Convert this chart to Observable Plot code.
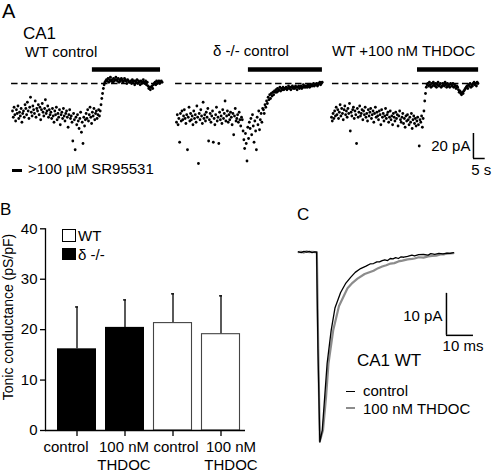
<!DOCTYPE html>
<html><head><meta charset="utf-8">
<script src="https://cdn.jsdelivr.net/npm/d3@7"></script>
<script src="https://cdn.jsdelivr.net/npm/@observablehq/plot@0.6"></script>
<style>
body{margin:0;background:#fff;}
#fig{position:relative;width:492px;height:472px;overflow:hidden;background:#fff;font-family:"Liberation Sans",Arial,Helvetica,sans-serif;color:#000;}
.t{position:absolute;white-space:nowrap;line-height:1;}
</style></head><body><div id="fig"></div>
<script>
// ---------------- DATA ----------------
// Panel A: holding current (pA, relative to the SR95531 level), sampled every 1/3 s
const sampleInterval = 1 / 3;
const wtControl = [
  -22,-27,-19,-25,-30,-21,-24,-18,-28,-23,-26,-20,-31,-24,-22,-27,-17,
  -20,-25,-15,-22,-28,-19,-11,-23,-26,-18,-21,-24,-14,-27,-20,-22,-17,-25,-19,-29,-21,-16,-23,-26,-20,-13,-24,-22,-18,-27,-21,-25,
  -23,-28,-20,-26,-31,-22,-25,-19,-29,-24,-27,-21,-33,-25,-23,-28,-20,-26,-30,-24,-22,-27,-35,-25,-21,-28,
  -26,-31,-46,-24,-29,-53,-27,-33,-25,-30,-36,-28,-23,-39,-31,-48,-27,-34,-29,
  -24,-28,-21,-30,-25,-19,-27,-32,-23,-26,-20,-29,-24,-22,-28,-25,-21,-26,
  -22,-17,-12,-8,-4,-1,1,2,
  3,2,4,1,3,5,2,3,1,4,2,3,5,3,2,4,1,3,2,4,3,1,2,4,3,2,0,3,2,1,
  1,2,0,3,1,2,-1,2,1,3,0,2,1,-1,2,0,1,3,1,0,2,-1,1,
  -2,-4,-3,-5,-3,-2,-4,-1,
  0,1,-1,2,0,1,2,0,1,2,1
];
const deltaControl = [
  -31,-25,-33,-28,-47,-24,-30,-22,-29,-26,
  -21,-28,-32,-25,-53,-27,-19,-30,-24,-29,
  -26,-33,-22,-28,-25,-31,-18,-27,-64,-24,
  -29,-21,-26,-32,-15,-28,-25,-30,-23,-27,
  -20,-46,-29,-24,-31,-26,-22,-47,-28,-33,
  -25,-19,-30,-27,-48,-23,-29,-26,-32,-21,
  -28,-24,-14,-30,-26,-22,-31,-25,-29,-23,
  -27,-33,-24,-41,-26,-20,-30,-28,-25,-31,
  -23,-29,-34,-27,
  -29,-38,-45,-52,-40,-48,-62,-35,-44,-31,
  -36,-28,-41,-25,-34,-47,-30,-38,-53,-27,-33,-22,-37,-29,-24,-31,-20,
  -21,-24,-17,-19,-14,-16,-11,-13,-9,-12,-8,-10,-7,-9,-6,-7,
  -5,-7,-4,-6,-5,-3,-6,-4,-5,-3,-5,-4,-4,
  -3,-5,-4,-2,-4,-3,-5,-3,-2,-4,-3,-4,-2,-3,-5,-3,-2,-4,-3,-2,-4,-3,-1,-3,-2,-3,
  -2,-3,-1,-2,-3,-1,-2,-1,-2,0,-2,-1,-1,0,-2,-1,0,1,-1,0,1
];
const wtThdoc = [
  -27,-30,-24,-28,-22,-26,-19,-25,-21,-28,
  -23,-17,-26,-20,-24,-29,-21,-18,-25,-22,
  -27,-20,-24,-16,-38,-23,-26,-21,-19,-28,
  -22,-25,-48,-20,-27,-23,-18,-26,-24,-21,
  -29,-22,-25,-19,-27,-24,-30,-21,-26,-23,
  -20,-28,-25,-22,-31,-24,-19,-27,-23,-26,
  -29,-22,-25,-33,-21,-27,-24,-30,-26,-20,
  -28,-25,-23,-31,-27,-22,-29,-26,-33,-24,
  -27,-30,-23,-28,-25,-34,-26,-22,-29,-31,
  -27,-24,-32,-28,-35,-26,-30,-25,-29,-33,
  -27,-31,-24,-36,-29,-26,-32,-28,-34,-30,
  -27,-33,-50,-29,-31,-26,-35,
  -28,-22,-14,-8,-3,-1,
  0,-2,1,-1,-3,0,-2,1,-1,-2,
  0,-3,-1,1,-2,-1,0,-3,-2,0,
  -1,-2,1,-1,-3,0,-2,-1,-3,0,
  -1,-2,0,-3,-1,-2,-4,-2,-3,
  -5,-7,-6,-8,-9,-7,-8,-6,-5,-4,
  -3,-2,-4,-1,-2,0,-3,-1,-2,0,
  1,-1,0,-2,1,0
];
// SR95531 application windows (s): [start, end] per trace
const sr95531Start = [34.0, 30.6, 36.6];
const sr95531End = [63.0, 62.1, 62.6];
const traceTitles = ["WT control", "δ -/- control", "WT +100 nM THDOC"];
const scaleBarPA = 20, scaleBarS = 5;

// Panel B
const groups = ["δ -/-", "δ -/-", "WT", "WT"];
const conditions = ["control", "100 nM\nTHDOC", "control", "100 nM\nTHDOC"];
const conductance = [16.2, 20.45, 21.3, 19.1];
const conductanceErr = [8.3, 5.45, 5.8, 7.6];
const yTicksB = [0, 10, 20, 30, 40];

// Panel C: averaged IPSCs (time ms, current pA)
const controlT = [0,1,2,3,4,5,6,6.7,7.2,7.9,8.8,9.7,10.6,12.1,13.5,15.6,17.4,19.3,21,23,25,26.5,27.8,29,30,31,32,33,34,35,36,37,38,39,40.4,42,43,44.5,46.3,48,49,50.5,52,53.5,55,56.2,57.4];
const controlI = [0.1,-0.1,0.2,0,0.2,-0.1,0.1,0,-23,-45.2,-42.4,-34.5,-26.5,-18.6,-13.3,-9.6,-7.5,-6.0,-4.8,-3.9,-3.3,-2.8,-2.7,-2.3,-2.3,-2.0,-1.8,-2.0,-1.5,-1.6,-1.3,-1.5,-1.1,-1.2,-1.0,-0.7,-0.9,-0.6,-0.55,-0.7,-0.35,-0.5,-0.3,-0.4,-0.2,-0.3,-0.1];
const thdocT = [0,1,2,3,4,5,6,6.8,7.3,7.9,9.07,10.2,11.1,12.85,15,18.15,20,21.85,24.5,27.8,29.5,31,32.5,34.1,35.5,37,38.5,40.4,42,43,44.5,46.3,48,49.5,51,52.6,54,55,56.2,57.4];
const thdocI = [0,0.1,-0.1,0.2,0,0.1,0,0,-23,-45,-42.4,-34.5,-26.5,-18.6,-12.8,-8.6,-7.3,-6.3,-5.2,-4.4,-3.8,-3.4,-3.1,-2.7,-2.6,-2.2,-2.0,-1.7,-1.6,-1.5,-1.2,-1.3,-1.0,-0.9,-0.8,-0.55,-0.5,-0.35,-0.3,-0.2];
const scaleBarPA_C = 10, scaleBarMs = 10;

// ---------------- LAYOUT ----------------
const FONT = '"Liberation Sans", Arial, Helvetica, sans-serif';
const fig = document.getElementById("fig");
const baseStyle = {background: "transparent", overflow: "visible", fontFamily: FONT, fontSize: "15px", color: "black"};

function place(node, left, top) {
  node.style.position = "absolute";
  node.style.left = left + "px";
  node.style.top = top + "px";
  fig.appendChild(node);
}
function label(txt, x, baseline, size, anchor = "start") {
  const d = document.createElement("div");
  d.className = "t";
  d.textContent = txt;
  d.style.fontSize = size + "px";
  d.style.top = (baseline - 0.8465 * size) + "px";
  if (anchor === "end") d.style.right = (492 - x) + "px";
  else if (anchor === "middle") { d.style.left = x + "px"; d.style.transform = "translateX(-50%)"; }
  else d.style.left = x + "px";
  fig.appendChild(d);
  return d;
}
function box(left, top, w, h, bg, border) {
  const d = document.createElement("div");
  d.style.cssText = `position:absolute;left:${left}px;top:${top}px;width:${w}px;height:${h}px;background:${bg};box-sizing:border-box;${border ? "border:" + border + ";" : ""}`;
  fig.appendChild(d);
}

// ---------------- PANEL A ----------------
const PX_PER_S = 2.35, PX_PER_PA = 1.25, PAD = 6;
const A_TOP = 60, A_H = 120, A_ZERO = 23;
const BAR_LEVEL = 11.2; // pA, height of the application bar
const traceX0 = [12, 176, 331];
const traceTMax = [64.5, 63, 70];
const dashStart = [-0.4, -0.4, 0.4];
const dashEnd = [63.4, 62.0, 62.6];
const traces = [wtControl, deltaControl, wtThdoc];

traces.forEach((vals, k) => {
  const pts = vals.map((v, i) => ({t: i * sampleInterval, I: v}));
  const tMax = traceTMax[k];
  const extra = [];
  if (k === 2) {
    const sbT = 60.4, sbI = -60;
    extra.push(
      Plot.ruleX([{x: sbT, y1: sbI, y2: sbI + scaleBarPA}], {x: "x", y1: "y1", y2: "y2", strokeWidth: 1.5}),
      Plot.ruleY([{y: sbI, x1: sbT, x2: sbT + scaleBarS}], {y: "y", x1: "x1", x2: "x2", strokeWidth: 1.5}),
      Plot.text([`${scaleBarPA} pA`], {x: sbT, y: sbI, dx: -3, dy: -8, textAnchor: "end", lineAnchor: "bottom", fontSize: 15}),
      Plot.text([`${scaleBarS} s`], {x: sbT + scaleBarS / 2, y: sbI, dx: 2, dy: 16, textAnchor: "middle", lineAnchor: "bottom", fontSize: 15})
    );
  }
  const svg = Plot.plot({
    width: tMax * PX_PER_S + 2 * PAD, height: A_H,
    marginLeft: PAD, marginRight: PAD, marginTop: 0, marginBottom: 0,
    x: {domain: [0, tMax], axis: null},
    y: {domain: [-(A_H - A_ZERO) / PX_PER_PA, A_ZERO / PX_PER_PA], axis: null},
    style: baseStyle,
    marks: [
      Plot.ruleY([{y: 0, x1: dashStart[k], x2: dashEnd[k]}], {y: "y", x1: "x1", x2: "x2", strokeDasharray: "6.5,3.5", strokeWidth: 1.3}),
      Plot.dot(pts, {x: "t", y: "I", r: 1.4, fill: "black"}),
      Plot.ruleY([{y: BAR_LEVEL, x1: sr95531Start[k], x2: sr95531End[k]}], {y: "y", x1: "x1", x2: "x2", strokeWidth: 4.5}),
      ...extra
    ]
  });
  place(svg, traceX0[k] - PAD, A_TOP);
});

label("A", 2, 18, 20);
label("CA1", 23, 39, 17);
label(traceTitles[0], 25, 57, 15);
label(traceTitles[1], 213, 56, 15);
label(traceTitles[2], 332, 56, 15);
box(12, 168.5, 10, 3.2, "black");
label(">100 µM SR95531", 28, 174, 15);

// ---------------- PANEL B ----------------
const barData = groups.map((g, i) => ({key: i, group: g, cond: conditions[i], value: conductance[i], upper: conductance[i] + conductanceErr[i]}));
const labelShift = [-11, -1, 3, 10];
const bPlot = Plot.plot({
  width: 250, height: 257, marginLeft: 45, marginRight: 5, marginTop: 13.3, marginBottom: 42,
  x: {type: "band", domain: barData.map(d => d.key), range: [52, 244], paddingInner: 0.19, paddingOuter: 0.095, axis: null},
  y: {domain: [0, 40], axis: null},
  style: baseStyle,
  marks: [
    Plot.ruleX(barData, {x: "key", y1: "value", y2: "upper", strokeWidth: 1.3}),
    Plot.tickY(barData, {x: "key", y: "upper", insetLeft: 18, insetRight: 18, strokeWidth: 1.3}),
    Plot.barY(barData.filter(d => d.group !== "WT"), {x: "key", y: "value", fill: "black"}),
    Plot.barY(barData.filter(d => d.group === "WT"), {x: "key", y: "value", fill: "white", stroke: "#444", strokeWidth: 1.1, insetLeft: 0.5, insetRight: 0.5}),
    Plot.axisY({ticks: yTicksB, tickSize: 5, tickPadding: 3, tickFormat: d => String(d), label: null, fontSize: 15, strokeWidth: 1.3}),
    Plot.axisX({tickSize: 6, tickFormat: () => "", label: null, strokeWidth: 1.3}),
    Plot.frame({anchor: "left", strokeWidth: 1.3}),
    Plot.ruleY([0], {strokeWidth: 1.3}),
    ...barData.map((d, i) => Plot.text([d], {x: "key", y: 0, text: "cond",
      dy: 21 + 18 * (d.cond.split("\n").length - 1), dx: labelShift[i],
      lineAnchor: "bottom", lineHeight: 1.2, textAnchor: "middle", fontSize: 15}))
  ]
});
place(bPlot, 0, 215);

label("B", 0, 215, 17);
const yl = label("Tonic conductance (pS/pF)", 8, 0, 14);
yl.style.top = "317px"; yl.style.left = "8px";
yl.style.transform = "translate(-50%,-50%) rotate(-90deg)";
box(62, 229, 14, 12.5, "white", "1.2px solid black");
box(62, 247.5, 14, 12.5, "black");
label("WT", 78, 241, 15);
label("δ -/-", 78, 259.5, 15);

// ---------------- PANEL C ----------------
const C_LEFT = 290, C_TOP = 240, C_W = 200, C_H = 210;
const T0_X = 298, ZERO_Y = 251.7, PX_PER_MS = 2.7, PX_PER_PA_C = 4.2;
const controlData = controlT.map((t, i) => ({t, I: controlI[i]}));
const thdocData = thdocT.map((t, i) => ({t, I: thdocI[i]}));
const sbT = 54.8, sbI = -19.8;
const cPlot = Plot.plot({
  width: C_W, height: C_H, marginLeft: 0, marginRight: 0, marginTop: 0, marginBottom: 0,
  x: {domain: [-(T0_X - C_LEFT) / PX_PER_MS, (C_W - (T0_X - C_LEFT)) / PX_PER_MS], axis: null},
  y: {domain: [-(C_H - (ZERO_Y - C_TOP)) / PX_PER_PA_C, (ZERO_Y - C_TOP) / PX_PER_PA_C], axis: null},
  style: baseStyle,
  marks: [
    Plot.line(thdocData, {x: "t", y: "I", stroke: "#8c8c8c", strokeWidth: 2.2}),
    Plot.line(controlData, {x: "t", y: "I", stroke: "black", strokeWidth: 1.3}),
    Plot.ruleX([{x: sbT, y1: sbI, y2: sbI + scaleBarPA_C}], {x: "x", y1: "y1", y2: "y2", strokeWidth: 1.5}),
    Plot.ruleY([{y: sbI, x1: sbT, x2: sbT + scaleBarMs}], {y: "y", x1: "x1", x2: "x2", strokeWidth: 1.5}),
    Plot.text([`${scaleBarPA_C} pA`], {x: sbT, y: sbI, dx: -4, dy: -14, textAnchor: "end", lineAnchor: "bottom", fontSize: 15}),
    Plot.text([`${scaleBarMs} ms`], {x: sbT + scaleBarMs / 2, y: sbI, dx: 3, dy: 16, textAnchor: "middle", lineAnchor: "bottom", fontSize: 15})
  ]
});
place(cPlot, C_LEFT, C_TOP);

label("C", 297, 220, 17);
label("CA1 WT", 357, 366, 17);
box(346, 391, 9, 1.3, "black");
box(346, 406.5, 9, 2, "#8c8c8c");
label("control", 363, 395.7, 15);
label("100 nM THDOC", 363, 413.3, 15);
</script>
</body></html>
